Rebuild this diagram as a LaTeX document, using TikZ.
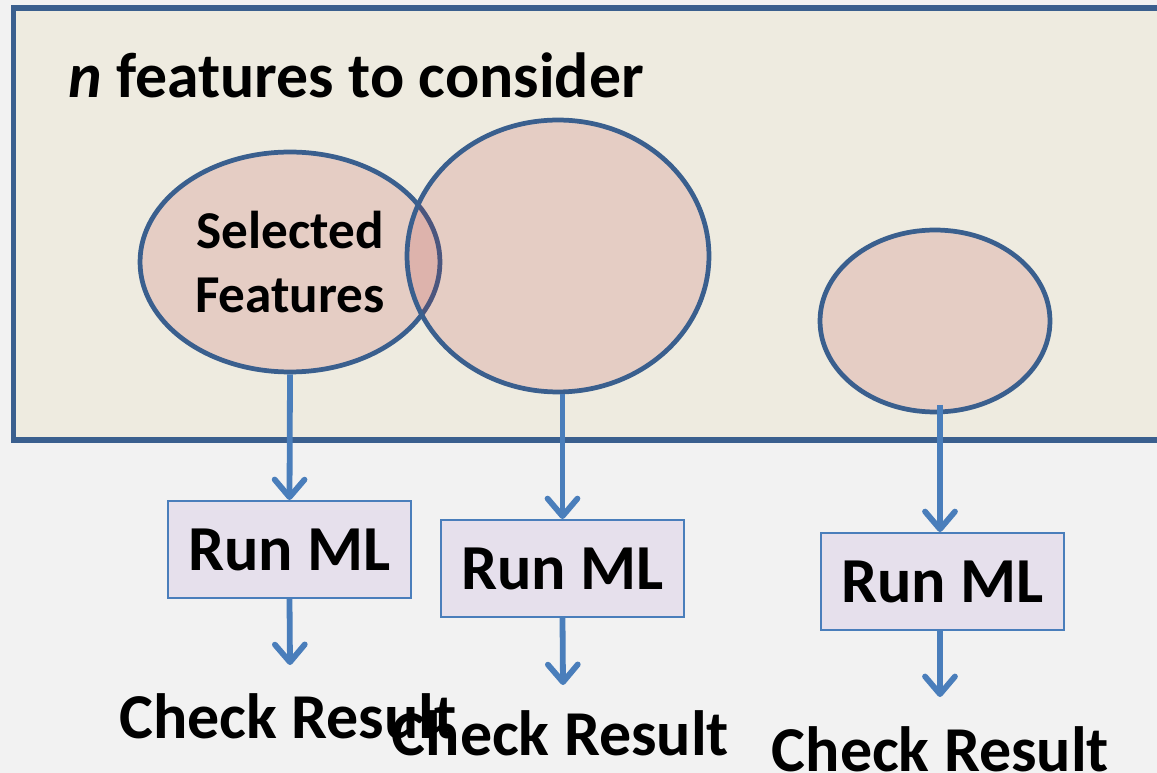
\documentclass[tikz,border=0pt]{standalone}
\usepackage{fontspec}
\setmainfont{Carlito}
\usepackage{tikz}
\usetikzlibrary{shapes.geometric,arrows.meta}
\definecolor{page}{HTML}{F2F2F2}
\definecolor{panel}{HTML}{EEEBE0}
\definecolor{frame}{HTML}{3A5F8E}
\definecolor{blob}{HTML}{B22326}
\definecolor{flow}{HTML}{4A7EBB}
\definecolor{runfill}{HTML}{E6E0EC}
\tikzset{
  panelbox/.style={draw=frame, fill=panel, line width=3pt},
  setblob/.style={ellipse, draw=frame, line width=2.7pt, fill=blob, fill opacity=0.15, text opacity=1, inner sep=0pt, align=center, font=\bfseries\fontsize{30.3}{36}\selectfont},
  runbox/.style={draw=flow, fill=runfill, line width=1.1pt, minimum width=4.86cm, minimum height=1.94cm, inner sep=0pt, font=\bfseries\fontsize{36.5}{44}\selectfont},
  result/.style={font=\bfseries\fontsize{36.4}{44}\selectfont, inner sep=0pt, anchor=base},
  arrowline/.style={draw=flow, line width=3.3pt, -{Straight Barb[length=10pt,width=17pt,round]}},
}

\begin{document}
\begin{tikzpicture}[x=0.02cm, y=-0.02cm]
  \useasboundingbox (0,0) rectangle (1157,773);
  \fill[page] (0,0) rectangle (1157,773);
  \draw[panelbox] (13.5,8) rectangle (1175,440);
  \node[anchor=base west, inner sep=0pt, font=\bfseries\fontsize{36.3}{40}\selectfont] (title) at (68,98) {\textit{n} features to consider};
  % feature sets
  \node[setblob, minimum width=6cm, minimum height=4.4cm] (sel) at (290,262) {Selected\\Features};
  \node[setblob, minimum width=6.04cm, minimum height=5.44cm] (mid) at (558,256) {};
  \node[setblob, minimum width=4.6cm, minimum height=3.64cm] (rgt) at (935,321) {};
  % runs
  \node[runbox] (run1) at (289.5,549.5) {Run ML};
  \node[runbox] (run2) at (562.5,568.5) {Run ML};
  \node[runbox] (run3) at (942.5,581.5) {Run ML};
  \node[result] (chk1) at (288,738) {Check Result};
  \node[result] (chk2) at (560.5,755) {Check Result};
  \node[result] (chk3) at (940.5,771) {Check Result};
  \coordinate (go3) at (940,405);
  \coordinate (end1) at (290,665);
  \coordinate (end2) at (563,685);
  \coordinate (end3) at (940,697);
  \draw[arrowline] (sel.south) -- (run1.north);
  \draw[arrowline] (mid.south -| run2.north) -- (run2.north);
  \draw[arrowline] (go3) -- (go3 |- run3.north);
  \draw[arrowline] (run1.south) -- (end1);
  \draw[arrowline] (run2.south) -- (end2);
  \draw[arrowline] (run3.south -| end3) -- (end3);
\end{tikzpicture}
\end{document}
